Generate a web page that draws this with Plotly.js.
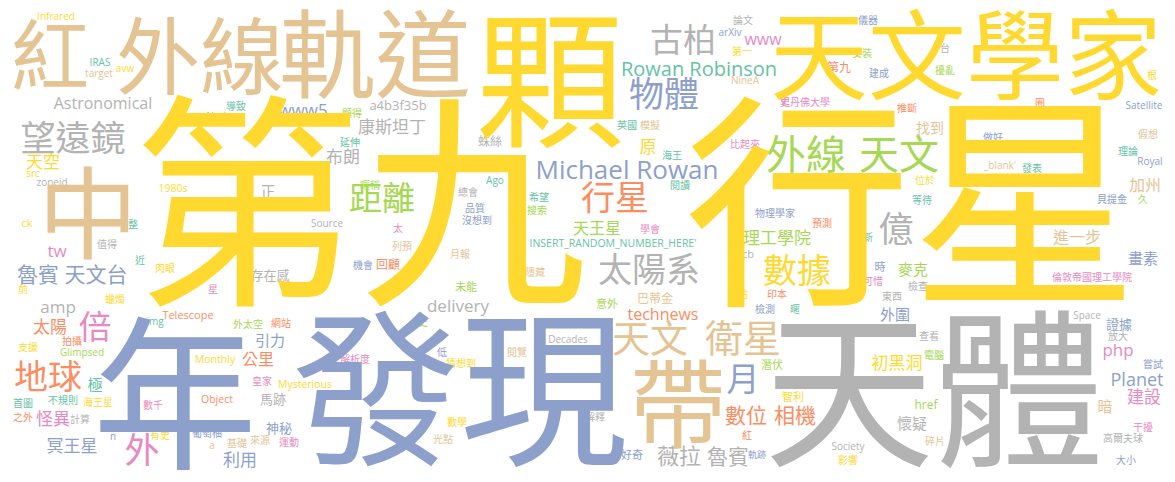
<!DOCTYPE html>
<html>
<head>
<meta charset="utf-8">
<script src="https://cdn.plot.ly/plotly-3.0.1.min.js"></script>
<style>
  html, body { margin: 0; padding: 0; background: #fff; }
  #cloud { width: 1175px; height: 482px; }
</style>
</head>
<body>
<div id="cloud"></div>
<script>
/* global Plotly */
const WIDTH = 1175;
const HEIGHT = 482;
const FONT = '"Open Sans", "Noto Sans CJK TC", sans-serif';
// plotly's "middle" sits the glyphs a bit high, push them down by this many em
const INK_SHIFT = 0.11;

// matplotlib Set2
const PALETTE = ['#66c2a5', '#fc8d62', '#8da0cb', '#e78ac3', '#a6d854', '#ffd92f', '#e5c494', '#b3b3b3'];

// the largest words
const bigWords = ['第九', '行星', '顆', '外線', '軌道', '紅', '天文學家', '中', '年', '發現', '天體', '帶'];
const bigWeights = [227, 227, 148, 84, 96, 78, 98, 100, 165, 168, 170, 97];
const bigColours = [5, 5, 5, 6, 6, 6, 5, 6, 2, 2, 7, 6];

// mid sized words
const midWords = ['望遠鏡', '距離', '物體', '古柏', '行星', '外線', '天文', '太陽系', '數據', '億',
  '天文', '衛星', '月', '數位', '相機', '地球', '倍', '外', 'Michael Rowan', 'Rowan Robinson',
  '薇拉', '魯賓', '魯賓', '天文台'];
const midWeights = [35, 33, 35, 33, 34, 40, 40, 34, 34, 35,
  38, 38, 33, 21, 21, 34, 33, 35, 26, 20,
  22, 21, 21, 21];
const midColours = [7, 4, 2, 7, 1, 4, 4, 7, 5, 7,
  6, 6, 2, 1, 1, 1, 3, 3, 2, 0,
  7, 7, 2, 2];

// minor words
const minorWords = ['Astronomical', 'www5', '康斯坦丁', '天空', '布朗', '正', '原', '天王星', '理工學院', 'www',
  'a4b3f35b', '蛛絲', '加州', '找到', '第九', '進一步', 'tw', '存在感', 'amp', '太陽',
  '引力', '公里', '極', '馬跡', '怪異', '神秘', '冥王星', '利用', 'delivery', 'technews',
  '畫素', '麥克', '外圍', '證據', 'php', '初黑洞', 'Planet', '建設', '暗', 'href',
  '懷疑', '回顧', '巴蒂金', "INSERT_RANDOM_NUMBER_HERE'"];
const minorWeights = [16, 17, 17, 17, 17, 15, 17, 16, 17, 16,
  13, 12, 16, 14, 12, 16, 17, 13, 17, 17,
  15, 16, 15, 13, 17, 13, 17, 17, 17, 16,
  15, 15, 15, 13, 17, 17, 18, 17, 15, 12,
  15, 12, 12, 10.5];
const minorColours = [7, 2, 7, 5, 7, 7, 5, 4, 4, 3,
  7, 7, 6, 6, 1, 6, 3, 7, 7, 1,
  2, 1, 0, 7, 3, 2, 2, 2, 7, 1,
  2, 4, 2, 2, 3, 5, 2, 3, 6, 4,
  7, 1, 6, 0];

// the many tiny words
const tinyWords = ['Infrared', 'IRAS', 'avw', 'target', '導致', 'Notices', '顯得', '延伸', 'src', 'zoneid',
  '暱稱', '1980s', 'ck', '整', 'Source', '太', '值得', '論文', 'arXiv', '第一',
  'NineA', '史', '英國', '模擬', '比起來', '海王', 'Ago', '總會', '閱讀', '希望',
  '品質', '搜索', '沒想到', '物理學家', '學會', '儀器', '台', '安裝', '建成', '擾亂',
  '根', '史丹佛大學', '推斷', '圈', 'Satellite', '做好', '假想', '理論', "_blank'", '發表',
  'Royal', '位於', '等待', '貝提金', '久', '預測', '新', '近', '肉眼', '機會',
  '列預', '前', '星', '蠟燭', 'Telescope', 'img', '外太空', '網站', '支援', '拍攝',
  'Glimpsed', 'Monthly', '解析度', '皇家', 'Mysterious', '首圖', '不規則', '海王星', 'Object', '數千',
  '之外', '計算', 'n', '有史', '葡萄柚', 'a', '基礎', '來源', '運動', '月報',
  'cb', '隱藏', '未能', '點', '印本', '意外', '檢測', '暱', '史', 'Decades',
  '低', '閱覽', '猜想到', '潛伏', '智利', '數學', '解釋', '紅', '光點', '好奇',
  '軌跡', '時', '可惜', '檢查', '倫敦帝國理工學院', '東西', 'Space', '查看', '放大', '電腦',
  '嘗試', '干擾', '高爾夫球', '碎片', 'Society', '影響', '大小'];
const tinyWeights = [10, 10, 10, 10, 10, 10, 10, 10, 10, 10,
  10, 10.5, 11, 10, 10, 10, 10, 10, 10, 10,
  10, 10, 10, 10, 10, 10, 10, 10, 10, 10,
  10, 10, 10, 10, 10, 10, 10, 10, 10, 10,
  10, 10, 10, 10, 10, 10, 10, 10, 10, 10,
  10, 10, 10, 10, 10, 10, 10, 10, 10, 10,
  10, 10, 10, 10, 11, 10, 10, 10, 10, 10,
  10, 10.5, 10, 10, 10.5, 10, 10, 10, 10.5, 10,
  10, 10, 10, 10, 10, 10, 10, 10, 10, 10,
  11, 10, 11, 10, 10, 11, 10, 10, 10, 10,
  10, 10, 10, 11, 11, 10, 10, 10, 10, 11,
  9, 11, 10, 10, 10, 10, 10, 10, 10, 10,
  10, 10, 10, 10, 10, 10, 10];
const tinyColours = [5, 0, 5, 6, 0, 3, 4, 0, 5, 7,
  4, 5, 5, 0, 7, 3, 7, 7, 2, 5,
  6, 3, 0, 6, 3, 0, 0, 7, 0, 0,
  2, 4, 2, 2, 3, 2, 7, 4, 2, 4,
  5, 3, 1, 1, 2, 2, 6, 0, 6, 0,
  2, 5, 0, 2, 4, 1, 0, 0, 5, 2,
  6, 5, 3, 5, 1, 0, 4, 1, 5, 1,
  4, 5, 3, 3, 5, 0, 0, 5, 1, 3,
  1, 7, 2, 5, 2, 6, 6, 6, 3, 6,
  7, 6, 4, 5, 1, 4, 2, 0, 4, 7,
  2, 6, 5, 4, 5, 5, 7, 1, 6, 2,
  2, 2, 3, 7, 3, 7, 7, 7, 7, 4,
  2, 3, 7, 6, 7, 5, 2];

// where the cloud placed each word (canvas units, y down, centre of the ink)
const bigPlaceX = [360, 911, 550, 200, 375, 50, 966, 88, 175, 460, 934, 678];
const bigPlaceY = [206, 206, 82, 58, 55, 57, 57, 215, 397, 392, 393, 405];
const midPlaceX = [73, 382, 664, 683, 615, 806, 899, 649, 797, 896,
  650, 743, 743, 746, 795, 48, 95, 142, 627, 699,
  679, 728, 38, 96];
const midPlaceY = [138, 198, 94, 40, 198, 155, 155, 270, 271, 229,
  338, 338, 379, 415, 415, 377, 327, 450, 170, 69,
  456, 456, 274, 274];
const minorPlaceX = [103, 303, 392, 43, 343, 268, 648, 597, 777, 763,
  398, 490, 1145, 930, 839, 1077, 57, 270, 58, 50,
  270, 258, 95, 273, 53, 279, 72, 240, 458, 663,
  1143, 913, 895, 1119, 1118, 897, 1137, 1144, 1105, 926,
  912, 388, 655, 613];
const minorPlaceY = [103, 110, 127, 162, 157, 192, 147, 228, 238, 39,
  105, 142, 185, 128, 68, 237, 251, 275, 307, 327,
  341, 359, 385, 399, 419, 428, 446, 460, 306, 314,
  259, 270, 315, 324, 350, 363, 380, 397, 407, 405,
  424, 265, 299, 243];
const tinyPlaceX = [56, 100, 125, 99, 236, 224, 352, 350, 33, 52,
  370, 173, 27, 133, 327, 398, 107, 743, 730, 742,
  745, 785, 627, 650, 745, 672, 495, 468, 680, 539,
  475, 537, 477, 775, 650, 868, 945, 862, 879, 945,
  1152, 805, 907, 1040, 1144, 993, 1148, 1128, 1000, 1032,
  1150, 925, 922, 1112, 1143, 822, 868, 140, 165, 363,
  402, 23, 213, 115, 188, 155, 248, 281, 28, 72,
  82, 215, 355, 262, 305, 23, 63, 98, 217, 153,
  23, 80, 113, 160, 207, 212, 237, 260, 289, 460,
  748, 535, 466, 743, 777, 607, 765, 795, 423, 568,
  442, 517, 461, 772, 793, 457, 595, 747, 443, 632,
  757, 880, 873, 918, 1092, 892, 1087, 929, 1118, 934,
  1153, 1143, 1123, 935, 848, 848, 1126];
const tinyPlaceY = [16, 62, 68, 73, 106, 116, 113, 142, 173, 182,
  185, 188, 223, 224, 223, 228, 244, 20, 32, 51,
  80, 100, 125, 125, 144, 155, 180, 192, 185, 197,
  208, 210, 220, 213, 229, 20, 48, 53, 73, 70,
  75, 102, 108, 103, 105, 137, 134, 151, 165, 168,
  161, 180, 200, 199, 199, 223, 237, 260, 268, 265,
  246, 289, 289, 299, 315, 321, 324, 323, 347, 341,
  352, 359, 359, 381, 384, 403, 400, 402, 399, 405,
  417, 419, 436, 435, 433, 445, 443, 440, 442, 254,
  254, 272, 287, 294, 294, 304, 309, 309, 322, 339,
  352, 352, 363, 365, 397, 422, 417, 435, 439, 455,
  455, 267, 281, 286, 277, 296, 315, 336, 336, 355,
  364, 427, 438, 441, 446, 460, 460];

const PX_PER_WEIGHT = 1;

function wordTrace(words, weights, colours, xs, ys) {
  const sizes = weights.map(w => w * PX_PER_WEIGHT);
  return {
    type: 'scatter',
    mode: 'text',
    x: xs,
    y: ys.map((y, i) => y + INK_SHIFT * sizes[i]),
    text: words,
    textposition: 'middle center',
    textfont: {
      family: FONT,
      size: sizes,
      color: colours.map(c => PALETTE[c])
    },
    hoverinfo: 'skip',
    cliponaxis: false,
    showlegend: false
  };
}

const traces = [
  wordTrace(tinyWords, tinyWeights, tinyColours, tinyPlaceX, tinyPlaceY),
  wordTrace(minorWords, minorWeights, minorColours, minorPlaceX, minorPlaceY),
  wordTrace(midWords, midWeights, midColours, midPlaceX, midPlaceY),
  wordTrace(bigWords, bigWeights, bigColours, bigPlaceX, bigPlaceY)
];

const layout = {
  width: WIDTH,
  height: HEIGHT,
  margin: { l: 0, r: 0, t: 0, b: 0 },
  paper_bgcolor: '#ffffff',
  plot_bgcolor: '#ffffff',
  xaxis: { range: [0, WIDTH], visible: false, fixedrange: true },
  yaxis: { range: [HEIGHT, 0], visible: false, fixedrange: true },
  showlegend: false
};

Plotly.newPlot('cloud', traces, layout, { staticPlot: true, displayModeBar: false });
</script>
</body>
</html>
